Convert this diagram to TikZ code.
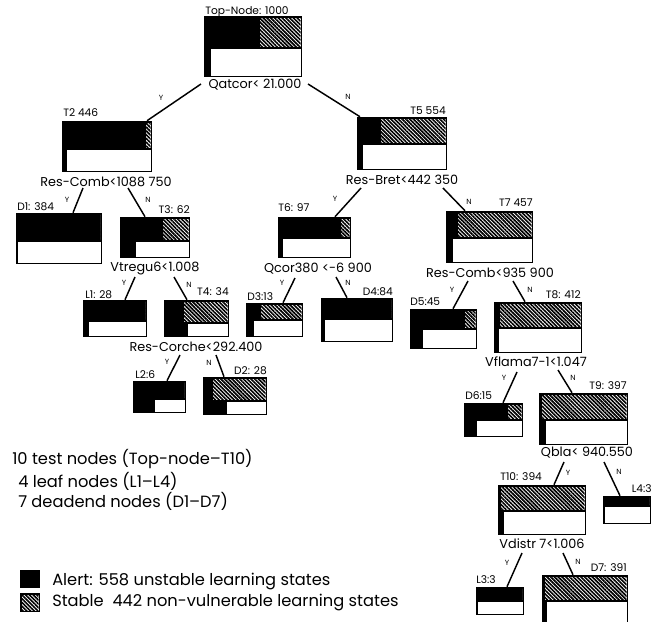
\documentclass[tikz,border=0pt]{standalone}
\usepackage{fontspec}
\setmainfont{Poppins}
\usetikzlibrary{fit,calc,patterns.meta}

% Each tree node: black frame, hatched share (stable) on the upper band,
% white panel on the lower band.
% #1 name, #2 left, #3 top, #4 right, #5 bottom, #6 hatch start x, #7 band split y, #8 white panel left x
\newcommand\treebox[8]{%
  \fill[black] (#2,#3) rectangle (#4,#5);
  \fill[white] (#6,#3+1.5) rectangle (#4-1.5,#7);
  \fill[hatch] (#6,#3+1.5) rectangle (#4-1.5,#7);
  \fill[white] (#8,#7+1.5) rectangle (#4-1.5,#5-1.5);
  \node[fit={(#2,#3)(#4,#5)}, inner sep=0pt] (#1) {};
}

\begin{document}
\begin{tikzpicture}[x=0.75pt,y=-0.75pt,
  hatch/.style={pattern={Lines[angle=-45,distance=2pt,line width=1.25pt]}},
  cond/.style={font=\fontsize{9.6}{11}\selectfont, inner sep=0pt},
  tagl/.style={font=\fontsize{8}{9}\selectfont, inner sep=0pt, anchor=west},
  tagr/.style={font=\fontsize{8}{9}\selectfont, inner sep=0pt, anchor=east},
  yn/.style={font=\fontsize{5.6}{6}\selectfont, inner sep=0pt},
  legendtext/.style={font=\fontsize{12.2}{14}\selectfont, inner sep=0pt, anchor=west},
  edge/.style={line width=1.1pt}]
\useasboundingbox (0,0) rectangle (662,622);

% ---- boxes ----
\treebox{top}{204}{16}{302}{77}{260}{47}{211}
\treebox{t2}{62}{121}{152}{172}{146}{148}{67}
\treebox{t5}{357}{117}{447}{170}{381}{143}{363}
\treebox{d1}{16}{213}{102}{264}{100.5}{240}{18}
\treebox{t3}{120}{217}{190}{258}{163}{240}{136}
\treebox{t6}{278}{217}{351}{258}{341}{237}{283}
\treebox{t7}{446}{211}{533}{263}{458}{237}{453}
\treebox{l1}{83}{300}{147}{337}{145.5}{320}{89}
\treebox{t4}{164}{300}{229}{337}{184}{322}{188}
\treebox{d3}{246}{303}{303}{337}{261}{319}{254}
\treebox{d4}{321}{298}{393}{342}{391.5}{318}{325}
\treebox{d5}{410}{309}{477}{349}{465}{328}{423}
\treebox{t8}{494}{302}{582}{353}{500}{327}{499}
\treebox{l2}{133}{381}{186}{413}{184.5}{398}{155}
\treebox{d2}{203}{377}{267}{415}{213}{400}{227}
\treebox{d6}{464}{403}{523}{437}{508}{419}{477}
\treebox{t9}{539}{393}{628}{445}{542}{419}{546}
\treebox{t10}{498}{485}{586}{535}{501}{510}{504}
\treebox{l4}{603}{496}{651}{524}{649.5}{505}{605}
\treebox{l3}{476}{587}{524}{615}{522.5}{600}{478}
\treebox{d7}{542}{575}{628}{640}{545}{600}{547}

% ---- box tags ----
\node[tagl] at (205,12) {Top-Node: 1000};
\node[tagl] at (63,113) {T2 446};
\node[tagr] at (446,111) {T5 554};
\node[tagl] at (17,207) {D1: 384};
\node[tagr] at (190,210) {T3: 62};
\node[tagl] at (278,208) {T6: 97};
\node[tagr] at (533,203) {T7 457};
\node[tagl] at (85,295) {L1: 28};
\node[tagr] at (229,292) {T4: 34};
\node[tagl] at (247,297) {D3:13};
\node[tagr] at (393,292) {D4:84};
\node[tagl] at (410,302) {D5:45};
\node[tagr] at (581,295) {T8: 412};
\node[tagl] at (135,375) {L2:6};
\node[tagr] at (267,371) {D2: 28};
\node[tagl] at (465,396) {D6:15};
\node[tagr] at (627,386) {T9: 397};
\node[tagl] at (500,477) {T10: 394};
\node[tagr] at (652,489) {L4:3};
\node[tagl] at (476,580) {L3:3};
\node[tagr] at (627,568) {D7: 391};

% ---- split conditions ----
\node[cond] (ctop) at (255,85) {Qatcor< 21.000};
\node[cond] (ct2) at (106,182) {Res-Comb<1088 750};
\node[cond] (ct5) at (402,180) {Res-Bret<442 350};
\node[cond] (ct3) at (155,268) {Vtregu6<1.008};
\node[cond] (ct6) at (318,269) {Qcor380 <-6 900};
\node[cond] (ct7) at (490,273) {Res-Comb<935 900};
\node[cond] (ct4) at (196,347) {Res-Corche<292.400};
\node[cond] (ct8) at (536,362) {Vflama7-1<1.047};
\node[cond] (ct9) at (587,453) {Qbla< 940.550};
\node[cond] (ct10) at (542,544) {Vdistr 7<1.006};

% ---- branches ----
\draw[edge] ($(ctop)+(-54,-1)$) -- ($(t2.north)+(40,0)$);
\draw[edge] ($(ctop)+(53,-1)$) -- ($(t5.north)+(-42,0)$);
\draw[edge] ($(ct2)+(-23,6)$) -- ($(d1.north)+(14,0)$);
\draw[edge] ($(ct2)+(22,6)$) -- ($(t3.north)+(-10,0)$);
\draw[edge] ($(ct5)+(-41,8)$) -- ($(t6.north)+(20.5,0)$);
\draw[edge] ($(ct5)+(41,8)$) -- ($(t7.north)+(-24.5,0)$);
\draw[edge] ($(ct3)+(-20,9)$) -- ($(l1.north)+(10,0)$);
\draw[edge] ($(ct3)+(19,9)$) -- ($(t4.north)+(-9.5,0)$);
\draw[edge] ($(ct6)+(-23,9)$) -- ($(d3.north)+(8.5,0)$);
\draw[edge] ($(ct6)+(18,8)$) -- ($(d4.north)+(-10,0)$);
\draw[edge] ($(ct7)+(-22,8)$) -- ($(d5.north)+(9.5,0)$);
\draw[edge] ($(ct7)+(23,8)$) -- ($(t8.north)+(-13,0)$);
\draw[edge] ($(ct4)+(-16,8)$) -- ($(l2.north)+(7.5,0)$);
\draw[edge] ($(ct4)+(20,8)$) -- ($(d2.north)+(-11,0)$);
\draw[edge] ($(ct8)+(-19,10)$) -- ($(d6.north)+(9.5,0)$);
\draw[edge] ($(ct8)+(22,8)$) -- ($(t9.north)+(-11.5,0)$);
\draw[edge] ($(ct9)+(-23,9)$) -- ($(t10.north)+(12,0)$);
\draw[edge] ($(ct9)+(17,9)$) -- ($(l4.north)+(-7,0)$);
\draw[edge] ($(ct10)+(-20,9)$) -- ($(l3.north)+(7,0)$);
\draw[edge] ($(ct10)+(21,9)$) -- ($(d7.north)+(-12,0)$);

% ---- branch answers ----
\node[yn] at (161,98) {Y};   \node[yn] at (348,97) {N};
\node[yn] at (67,200) {Y};   \node[yn] at (148,200) {N};
\node[yn] at (335,199) {Y};  \node[yn] at (469,202) {N};
\node[yn] at (124,283) {Y};  \node[yn] at (189,285) {N};
\node[yn] at (282,283) {Y};  \node[yn] at (348,283) {N};
\node[yn] at (452,290) {Y};  \node[yn] at (530,290) {N};
\node[yn] at (167,362) {Y};  \node[yn] at (209,363) {N};
\node[yn] at (504,378) {Y};  \node[yn] at (573,378) {N};
\node[yn] at (568,473) {Y};  \node[yn] at (619,472) {N};
\node[yn] at (507,563) {Y};  \node[yn] at (578,562) {N};

% ---- summary ----
\node[legendtext] (s1) at (12,459) {10 test nodes (Top-node--T10)};
\node[legendtext] (s2) at (18,481) {4 leaf nodes (L1--L4)};
\node[legendtext] (s3) at (18,501) {7 deadend nodes (D1--D7)};

% ---- key ----
\fill[black] (20,570) rectangle (40,588);
\node[fit={(20,570)(40,588)}, inner sep=0pt] (kalert) {};
\fill[black] (20,593) rectangle (40,612);
\fill[white] (21.5,594.5) rectangle (38.5,610.5);
\fill[hatch] (21.5,594.5) rectangle (38.5,610.5);
\node[fit={(20,593)(40,612)}, inner sep=0pt] (kstable) {};
\node[legendtext] (lalert) at (52,582) {Alert: 558 unstable learning states};
\node[legendtext] (lstable) at (52,603) {Stable\ \ 442 non-vulnerable learning states};
\end{tikzpicture}
\end{document}
